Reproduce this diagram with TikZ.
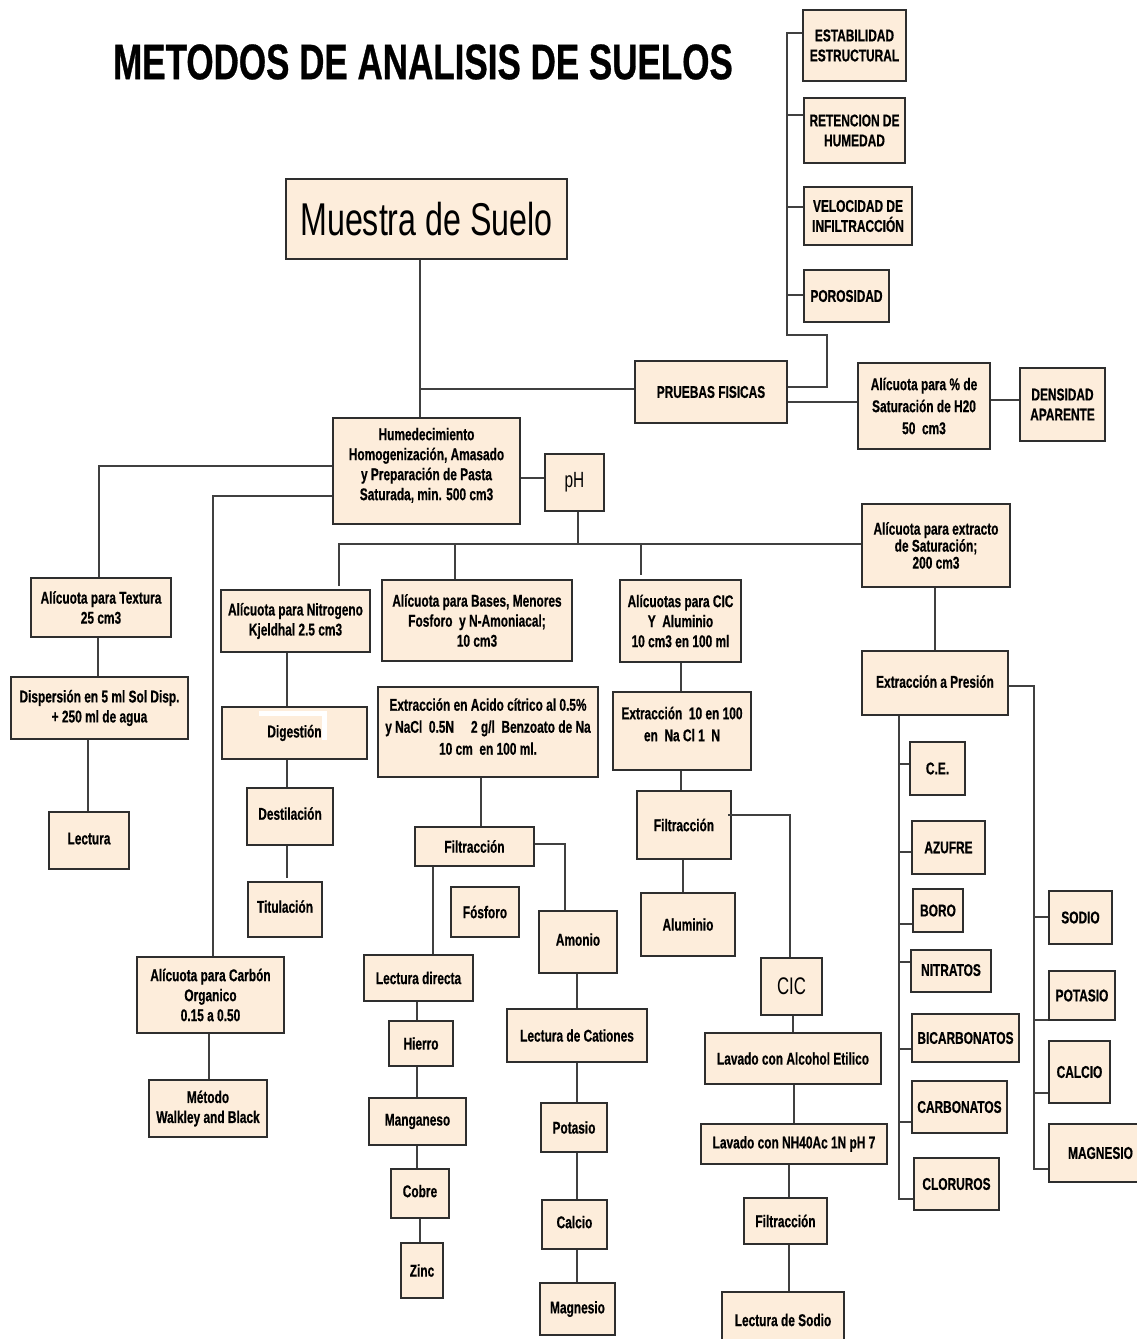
\documentclass[tikz,border=0pt]{standalone}
\usepackage{fontspec}
\setmainfont{Liberation Sans}
\newfontfamily\nb[FakeStretch=0.70,FakeBold=0.6]{Liberation Sans}
\newfontfamily\nr[FakeStretch=0.70]{Liberation Sans}
\definecolor{peach}{HTML}{FDEDDB}
\definecolor{edge}{HTML}{2E2E2E}
\definecolor{wire}{HTML}{404040}
\newcommand\mybox[7][]{%
  \node[bx,minimum width={(#5-#3)*1pt},minimum height={(#6-#4)*1pt},#1] (#2) at ({(#3+#5)/2},{(#4+#6)/2}) {#7};}
\newcommand\up[2]{\raisebox{#1}{#2}}
\tikzset{
  bx/.style={draw=edge,fill=peach,line width=1.6pt,inner sep=0pt,align=center,
     font={\nb\bfseries\fontsize{17}{20}\selectfont}},
  wire/.style={draw=wire,line width=1.3pt},
}
\begin{document}
\begin{tikzpicture}[x=1pt,y=-1pt]
\useasboundingbox (0,0) rectangle (1136,1339);
\fill[white] (0,0) rectangle (1136,1339);

\node (title) at (423,62) {\nb\bfseries\fontsize{50}{56}\selectfont METODOS DE ANALISIS DE SUELOS};

\mybox[font={\nr\fontsize{46}{50}\selectfont}]{muestra}{286}{179}{567}{259}{Muestra de Suelo}
\mybox{est}{803}{10}{906}{81}{ESTABILIDAD\\ESTRUCTURAL}
\mybox{ret}{804}{98}{905}{163}{RETENCION DE\\HUMEDAD}
\mybox{vel}{804}{187}{912}{245}{VELOCIDAD DE\\INFILTRACCIÓN}
\mybox{por}{804}{270}{889}{322}{POROSIDAD}
\mybox{pru}{635}{361}{787}{423}{PRUEBAS FISICAS}
\mybox[font={\nb\bfseries\fontsize{17}{22}\selectfont}]{sat}{858}{363}{990}{449}{Alícuota para \% de\\Saturación de H20\\50\ \ cm3}
\mybox{den}{1020}{368}{1105}{441}{DENSIDAD\\APARENTE}
\mybox{hum}{333}{418}{520}{524}{Humedecimiento\\Homogenización, Amasado\\y Preparación de Pasta\\Saturada, min. 500 cm3\\[-6pt]}
\mybox[font={\nr\fontsize{22}{24}\selectfont}]{ph}{545}{454}{604}{511}{pH}
\mybox{tex}{31}{578}{171}{637}{Alícuota para Textura\\25 cm3\hspace{30pt}}
\mybox{nit}{221}{590}{370}{652}{Alícuota para Nitrogeno\\Kjeldhal 2.5 cm3}
\mybox{bas}{382}{580}{572}{661}{Alícuota para Bases, Menores\\Fosforo\ \ y N-Amoniacal;\hspace{10pt}\\10 cm3}
\mybox{cicA}{620}{580}{741}{662}{Alícuotas para CIC\\Y\ \ Aluminio\\10 cm3 en 100 ml}
\mybox[font={\nb\bfseries\fontsize{17}{17}\selectfont}]{ext}{862}{504}{1010}{587}{Alícuota para extracto\\de Saturación;\\200 cm3}
\mybox{dis}{11}{677}{188}{739}{Dispersión en 5 ml Sol Disp.\\+ 250 ml de agua\hspace{20pt}}
\mybox{lec}{49}{812}{129}{869}{\up{4pt}{Lectura}}
\mybox{dig}{222}{707}{367}{759}{Digestión}
\mybox{des}{247}{788}{333}{845}{\up{6pt}{Destilación}}
\mybox{tit}{248}{882}{322}{937}{\up{6pt}{Titulación}}
\mybox{car}{137}{957}{284}{1033}{Alícuota para Carbón\\Organico\\0.15 a 0.50}
\mybox{met}{149}{1080}{267}{1137}{Método\\Walkley and Black}
\mybox[font={\nb\bfseries\fontsize{17}{22}\selectfont}]{aci}{378}{687}{598}{777}{Extracción en Acido cítrico al 0.5\%\\y NaCl\ \ 0.5N\quad 2 g/l\ \ Benzoato de Na\\10 cm\ \ en 100 ml.\\[-11pt]}
\mybox{fil1}{415}{827}{534}{866}{Filtracción}
\mybox{fos}{451}{887}{519}{937}{Fósforo}
\mybox{amo}{539}{911}{617}{973}{\up{5pt}{Amonio}}
\mybox{ld}{364}{955}{473}{1001}{Lectura directa}
\mybox{hie}{389}{1021}{453}{1066}{Hierro}
\mybox{man}{369}{1098}{466}{1145}{Manganeso}
\mybox{cob}{391}{1169}{449}{1218}{\up{5pt}{Cobre}}
\mybox{zin}{401}{1243}{443}{1298}{Zinc}
\mybox{cat}{507}{1009}{647}{1062}{Lectura de Cationes}
\mybox{pot}{541}{1103}{607}{1152}{Potasio}
\mybox{cal}{542}{1200}{607}{1249}{\up{5pt}{Calcio}}
\mybox{mag}{540}{1283}{615}{1335}{Magnesio}
\mybox[font={\nb\bfseries\fontsize{17}{22}\selectfont}]{e10}{613}{692}{751}{770}{Extracción\ \ 10 en 100\\en\ \ Na Cl 1\ \ N\\[-8pt]}
\mybox{fil2}{637}{791}{731}{859}{Filtracción}
\mybox{alu}{641}{893}{735}{956}{Aluminio}
\mybox[font={\nr\fontsize{24}{26}\selectfont}]{cic}{761}{958}{822}{1015}{CIC}
\mybox{lav1}{705}{1033}{881}{1084}{Lavado con Alcohol Etilico}
\mybox{lav2}{701}{1124}{887}{1164}{Lavado con NH40Ac 1N pH 7}
\mybox{fil3}{744}{1198}{827}{1244}{Filtracción}
\mybox{sod}{722}{1292}{844}{1348}{Lectura de Sodio}
\mybox{pre}{862}{651}{1008}{715}{\up{3pt}{Extracción a Presión}}
\mybox{ce}{910}{742}{965}{795}{C.E.}
\mybox{azu}{912}{821}{985}{874}{AZUFRE}
\mybox{bor}{913}{889}{963}{932}{BORO}
\mybox{nitr}{911}{950}{991}{992}{\up{2pt}{NITRATOS}}
\mybox{bic}{912}{1014}{1019}{1062}{BICARBONATOS}
\mybox{carb}{912}{1081}{1007}{1133}{CARBONATOS}
\mybox{clo}{914}{1158}{999}{1210}{CLORUROS}
\mybox{sodio}{1049}{891}{1112}{944}{SODIO}
\mybox{potas}{1049}{971}{1115}{1020}{POTASIO}
\mybox{calc}{1049}{1041}{1110}{1103}{CALCIO}
\mybox{magn}{1049}{1124}{1152}{1182}{MAGNESIO}

% white artefact in Digestion box
\fill[white] (259,711) rectangle (327,716);
\fill[white] (322,711) rectangle (327,740);

% Muestra -> Humedecimiento, Pruebas
\coordinate (j1) at (420,389);
\draw[wire] (j1 |- muestra.south) -- (j1 |- hum.north);
\draw[wire] (j1) -- (j1 -| pru.west);

% physical tests bus
\coordinate (p1) at (827,387); \coordinate (p2) at (827,335);
\coordinate (p3) at (787,335); \coordinate (p4) at (787,33);
\draw[wire] (p1 -| pru.east) -- (p1) -- (p2) -- (p3) -- (p4) -- (p4 -| est.west);
\coordinate (t2) at (787,115); \draw[wire] (t2) -- (t2 -| ret.west);
\coordinate (t3) at (787,207); \draw[wire] (t3) -- (t3 -| vel.west);
\coordinate (t4) at (787,295); \draw[wire] (t4) -- (t4 -| por.west);
\coordinate (s1) at (0,402); \draw[wire] (s1 -| pru.east) -- (s1 -| sat.west);
\coordinate (s2) at (0,400); \draw[wire] (s2 -| sat.east) -- (s2 -| den.west);

% Humedecimiento branches
\coordinate (h1) at (0,478); \draw[wire] (h1 -| hum.east) -- (h1 -| ph.west);
\coordinate (h2) at (99,466); \draw[wire] (h2 -| hum.west) -- (h2) -- (h2 |- tex.north);
\coordinate (h3) at (213,496); \draw[wire] (h3 -| hum.west) -- (h3) -- (h3 |- car.north);

% pH bus
\coordinate (b0) at (578,544); \draw[wire] (b0 |- ph.south) -- (b0);
\coordinate (b1) at (339,544); \coordinate (b1e) at (339,586);
\draw[wire] (b1e) -- (b1) -- (b1 -| ext.west);
\coordinate (b2) at (455,544); \draw[wire] (b2) -- (b2 |- bas.north);
\coordinate (b3) at (641,544); \coordinate (b3e) at (641,575); \draw[wire] (b3) -- (b3e);

% left columns
\coordinate (v1) at (98,0); \draw[wire] (v1 |- tex.south) -- (v1 |- dis.north);
\coordinate (v2) at (88,0); \draw[wire] (v2 |- dis.south) -- (v2 |- lec.north);
\coordinate (v3) at (287,0);
\draw[wire] (v3 |- nit.south) -- (v3 |- dig.north);
\draw[wire] (v3 |- dig.south) -- (v3 |- des.north);
\coordinate (v3e) at (287,878); \draw[wire] (v3 |- des.south) -- (v3e);
\coordinate (v4) at (209,0); \draw[wire] (v4 |- car.south) -- (v4 |- met.north);

% acid extraction branch
\coordinate (v5) at (481,0); \draw[wire] (v5 |- aci.south) -- (v5 |- fil1.north);
\coordinate (v6) at (433,0); \draw[wire] (v6 |- fil1.south) -- (v6 |- ld.north);
\coordinate (f1) at (565,844); \draw[wire] (f1 -| fil1.east) -- (f1) -- (f1 |- amo.north);
\coordinate (v7) at (417,0);
\draw[wire] (v7 |- ld.south) -- (v7 |- hie.north);
\draw[wire] (v7 |- hie.south) -- (v7 |- man.north);
\draw[wire] (v7 |- man.south) -- (v7 |- cob.north);
\coordinate (v8) at (420,0); \draw[wire] (v8 |- cob.south) -- (v8 |- zin.north);
\coordinate (v9) at (577,0);
\draw[wire] (v9 |- amo.south) -- (v9 |- cat.north);
\draw[wire] (v9 |- cat.south) -- (v9 |- pot.north);
\draw[wire] (v9 |- pot.south) -- (v9 |- cal.north);
\draw[wire] (v9 |- cal.south) -- (v9 |- mag.north);

% CIC branch
\coordinate (v10) at (681,0);
\draw[wire] (v10 |- cicA.south) -- (v10 |- e10.north);
\draw[wire] (v10 |- e10.south) -- (v10 |- fil2.north);
\coordinate (v11) at (683,0); \draw[wire] (v11 |- fil2.south) -- (v11 |- alu.north);
\coordinate (f2) at (790,815); \coordinate (f2s) at (728,815);
\draw[wire] (f2s) -- (f2) -- (f2 |- cic.north);
\coordinate (v12) at (793,0); \draw[wire] (v12 |- cic.south) -- (v12 |- lav1.north);
\coordinate (v12b) at (794,0); \draw[wire] (v12b |- lav1.south) -- (v12b |- lav2.north);
\coordinate (v13) at (789,0);
\draw[wire] (v13 |- lav2.south) -- (v13 |- fil3.north);
\draw[wire] (v13 |- fil3.south) -- (v13 |- sod.north);

% saturation extract branch
\coordinate (v14) at (935,0); \draw[wire] (v14 |- ext.south) -- (v14 |- pre.north);
\coordinate (r0) at (1034,686); \coordinate (r1) at (1034,1169);
\draw[wire] (r0 -| pre.east) -- (r0) -- (r1) -- (r1 -| magn.west);
\coordinate (r2) at (1034,917); \draw[wire] (r2) -- (r2 -| sodio.west);
\coordinate (r3) at (1034,1020); \draw[wire] (r3) -- (r3 -| potas.west);
\coordinate (r4) at (1034,1093); \draw[wire] (r4) -- (r4 -| calc.west);
\coordinate (l0) at (899,0); \coordinate (l1) at (899,1199);
\draw[wire] (l0 |- pre.south) -- (l1) -- (l1 -| clo.west);
\coordinate (l2) at (899,764); \draw[wire] (l2) -- (l2 -| ce.west);
\coordinate (l3) at (899,852); \draw[wire] (l3) -- (l3 -| azu.west);
\coordinate (l4) at (899,924); \draw[wire] (l4) -- (l4 -| bor.west);
\coordinate (l5) at (899,962); \draw[wire] (l5) -- (l5 -| nitr.west);
\coordinate (l6) at (899,1049); \draw[wire] (l6) -- (l6 -| bic.west);
\coordinate (l7) at (899,1122); \draw[wire] (l7) -- (l7 -| carb.west);
\end{tikzpicture}
\end{document}
